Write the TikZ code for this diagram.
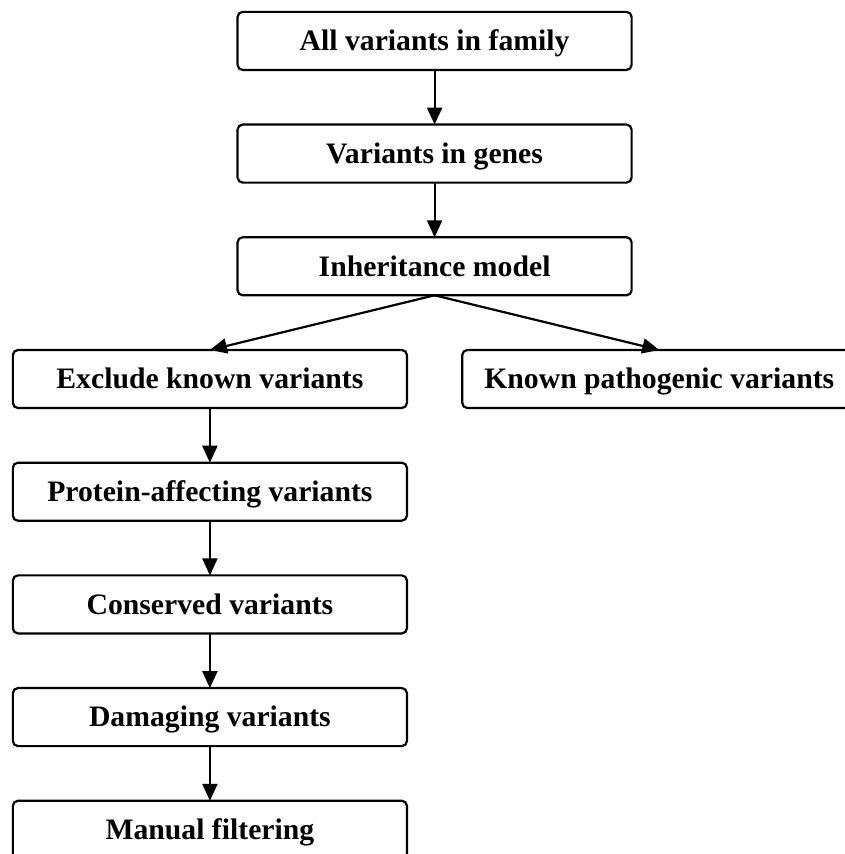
\documentclass[tikz,border=0pt]{standalone}
\usepackage{fontspec}
\setmainfont{Liberation Serif}
\usetikzlibrary{matrix,arrows.meta}

\begin{document}
\begin{tikzpicture}[stage/.style={draw, rounded corners=5bp, line width=2.2bp,
minimum width=394bp, minimum height=58bp, inner sep=0pt,
text height=19.7bp, text depth=0pt, font=\fontsize{29.7bp}{34bp}\selectfont\bfseries}]
\useasboundingbox (0,0) rectangle (845bp,854bp);
\matrix (flt) [matrix of nodes, nodes={stage}, row sep=52.5bp,
column sep=-171.5bp, inner sep=0pt, outer sep=0pt, anchor=north west] at (11.8bp,843.2bp)
{
 & All variants in family & \\
 & Variants in genes & \\
 & Inheritance model & \\
Exclude known variants & & Known pathogenic variants \\
Protein-affecting variants & & \\
Conserved variants & & \\
Damaging variants & & \\
Manual filtering & & \\};
\path[-{Triangle[length=17bp,width=15bp]}, line width=2.2bp]
(flt-1-2) edge (flt-2-2)
(flt-2-2) edge (flt-3-2)
(flt-3-2.south) edge (flt-4-1.north)
(flt-3-2.south) edge (flt-4-3.north)
(flt-4-1) edge (flt-5-1)
(flt-5-1) edge (flt-6-1)
(flt-6-1) edge (flt-7-1)
(flt-7-1) edge (flt-8-1);
\end{tikzpicture}
\end{document}
